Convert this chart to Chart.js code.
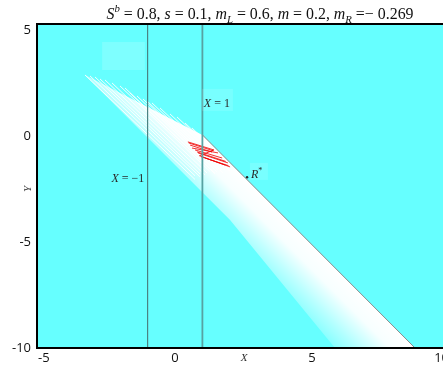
<!DOCTYPE html>
<html>
<head>
<meta charset="utf-8">
<script src="https://cdn.jsdelivr.net/npm/chart.js@4.4.1/dist/chart.umd.min.js"></script>
<style>
html, body { margin: 0; padding: 0; overflow: hidden; background: #fff; }
#wrap { width: 458px; height: 365px; }
</style>
</head>
<body>
<div id="wrap"><canvas id="c" width="458" height="365"></canvas></div>
<script>
// axis ranges and ticks
var xRange = [-5, 10];
var yRange = [-10, 5.28];
var xTicks = [-5, 0, 5, 10];
var yTicks = [-10, -5, 0, 5];

// the two vertical lines X = -1 and X = 1
var lineLeft = [[-1, -10], [-1, 5.28]];
var lineRight = [[1, -10], [1, 5.28]];

// diagonal boundary through R*
var boundary = [[1.0, 0.05], [8.76, -10]];
var rStar = [[2.63, -1.95]];

// white strip under the boundary
var band = [[-3.285, 2.877], [1.0, 0.05], [8.76, -10], [5.84, -10], [2.01, -3.96]];

// white streaks coming in from the upper left
var streaks = [
  [[-3.285, 2.877], [0.730, -2.052]],
  [[-3.102, 2.830], [0.730, -1.877]],
  [[-2.920, 2.783], [0.912, -1.925]],
  [[-2.737, 2.689], [0.912, -1.792]],
  [[-2.555, 2.642], [1.095, -1.840]],
  [[-2.299, 2.500], [1.168, -1.745]],
  [[-2.007, 2.358], [1.277, -1.675]],
  [[-1.825, 2.264], [1.460, -1.769]],
  [[-1.642, 2.028], [1.460, -1.781]],
  [[-1.387, 1.887], [1.533, -1.698]],
  [[-1.168, 1.745], [1.569, -1.604]],
  [[-0.985, 1.604], [1.752, -1.745]],
  [[-0.839, 1.557], [1.715, -1.580]],
  [[-0.547, 1.321], [1.825, -1.592]],
  [[-0.182, 1.038], [2.007, -1.651]],
  [[0.073, 0.896], [2.080, -1.557]],
  [[0.365, 0.613], [2.190, -1.627]],
  [[0.620, 0.377], [2.263, -1.639]]
];

// red trajectories near X = 1
var redLines = [
  [[0.47, -0.28], [1.42, -0.66]],
  [[0.50, -0.33], [1.40, -0.70]],
  [[0.55, -0.43], [1.35, -0.76]],
  [[0.62, -0.57], [1.57, -0.80]],
  [[1.42, -0.66], [0.88, -0.94]],
  [[0.73, -0.66], [1.72, -1.04]],
  [[0.80, -0.75], [1.85, -1.20]],
  [[0.84, -0.80], [1.93, -1.27]],
  [[0.91, -0.94], [2.01, -1.46]],
  [[0.95, -0.98], [1.95, -1.40]],
  [[1.10, -1.04], [1.83, -1.37]]
];

// pale patch in the upper left
var patch = [[-2.66, 4.43], [-1.10, 3.11]];

// text notes
var noteX1 = [1.53, 1.56];
var noteXm1 = [-1.72, -1.98];
var noteR = [2.77, -1.79];

function pts(arr) {
  return arr.map(function (p) { return { x: p[0], y: p[1] }; });
}

function bandFill(context) {
  var chart = context.chart;
  if (!chart.chartArea) return 'rgba(255,255,255,0.8)';
  var xs = chart.scales.x, ys = chart.scales.y;
  var ax = xs.getPixelForValue(boundary[0][0]), ay = ys.getPixelForValue(boundary[0][1]);
  var bx = xs.getPixelForValue(boundary[1][0]), by = ys.getPixelForValue(boundary[1][1]);
  var len = Math.hypot(bx - ax, by - ay);
  var dx = (bx - ax) / len, dy = (by - ay) / len;
  var g = chart.ctx.createLinearGradient(ax, ay, ax - dy * 62, ay + dx * 62);
  g.addColorStop(0, 'rgba(255,255,255,1)');
  g.addColorStop(0.28, 'rgba(255,255,255,0.95)');
  g.addColorStop(0.66, 'rgba(255,255,255,0.5)');
  g.addColorStop(1, 'rgba(255,255,255,0.12)');
  return g;
}

var datasets = [];
datasets.push({
  data: pts(band), fill: 'shape', backgroundColor: bandFill,
  borderWidth: 0, pointRadius: 0, order: 20
});
streaks.forEach(function (s) {
  datasets.push({ data: pts(s), borderColor: 'rgba(255,255,255,0.9)', borderWidth: 1, pointRadius: 0, fill: false, order: 15 });
});
redLines.forEach(function (s) {
  datasets.push({ data: pts(s), borderColor: 'rgba(240,0,0,0.8)', borderWidth: 1, pointRadius: 0, fill: false, order: 12 });
});
datasets.push({ data: pts(lineLeft), borderColor: '#4b8383', borderWidth: 1.2, pointRadius: 0, fill: false, order: 8 });
datasets.push({ data: pts(lineRight), borderColor: '#57a2a2', borderWidth: 1.8, pointRadius: 0, fill: false, order: 8 });
datasets.push({ data: pts(boundary), borderColor: '#8a8a8a', borderWidth: 1, pointRadius: 0, fill: false, order: 6 });
datasets.push({ data: pts(rStar), showLine: false, pointRadius: 1.2, pointBackgroundColor: '#222', pointBorderWidth: 0, order: 4 });

function richText(ctx, parts, x, base, size, align) {
  var w = 0;
  parts.forEach(function (p) {
    var s = (p.sup || p.sub) ? size * 0.68 : size;
    ctx.font = (p.i ? 'italic ' : '') + s + 'px "Liberation Serif", "DejaVu Serif", serif';
    p.w = ctx.measureText(p.t).width;
    p.s = s;
    w += p.w;
  });
  var cx = align === 'center' ? x - w / 2 : x;
  ctx.textAlign = 'left';
  ctx.textBaseline = 'alphabetic';
  parts.forEach(function (p) {
    ctx.font = (p.i ? 'italic ' : '') + p.s + 'px "Liberation Serif", "DejaVu Serif", serif';
    var off = p.sup ? -size * 0.42 : (p.sub ? size * 0.25 : 0);
    ctx.fillText(p.t, cx, base + off);
    cx += p.w;
  });
  return w;
}

var decor = {
  id: 'decor',
  beforeDatasetsDraw: function (chart) {
    var ctx = chart.ctx, a = chart.chartArea;
    var xs = chart.scales.x, ys = chart.scales.y;
    ctx.save();
    ctx.fillStyle = 'rgb(102,255,255)';
    ctx.fillRect(a.left, a.top, a.right - a.left, a.bottom - a.top);
    var px0 = xs.getPixelForValue(patch[0][0]), py0 = ys.getPixelForValue(patch[0][1]);
    var px1 = xs.getPixelForValue(patch[1][0]), py1 = ys.getPixelForValue(patch[1][1]);
    ctx.fillStyle = 'rgb(126,255,255)';
    ctx.fillRect(px0, py0, px1 - px0, py1 - py0);
    ctx.restore();
  },
  afterDatasetsDraw: function (chart) {
    var ctx = chart.ctx, a = chart.chartArea;
    var xs = chart.scales.x, ys = chart.scales.y;
    ctx.save();
    // light boxes behind the notes
    ctx.fillStyle = 'rgba(255,255,255,0.12)';
    var bx = xs.getPixelForValue(noteX1[0]), by = ys.getPixelForValue(noteX1[1]);
    ctx.fillRect(bx - 15, by - 14, 31, 22);
    var rx = xs.getPixelForValue(noteR[0]), ry = ys.getPixelForValue(noteR[1]);
    ctx.fillRect(rx - 1, ry - 11, 18, 17);
    ctx.fillStyle = '#2a2a2a';
    richText(ctx, [{ t: 'X', i: 1 }, { t: ' = 1' }], bx, by + 4, 12, 'center');
    var mx = xs.getPixelForValue(noteXm1[0]), my = ys.getPixelForValue(noteXm1[1]);
    richText(ctx, [{ t: 'X', i: 1 }, { t: ' = \u22121' }], mx, my + 4, 12, 'center');
    richText(ctx, [{ t: 'R', i: 1 }, { t: '*', sup: 1 }], rx, ry + 4, 12, 'left');
    // frame
    ctx.strokeStyle = '#000';
    ctx.lineWidth = 2;
    ctx.strokeRect(a.left - 1, a.top, a.right - a.left + 2, a.bottom - a.top);
    ctx.restore();
  },
  afterDraw: function (chart) {
    var ctx = chart.ctx;
    ctx.save();
    ctx.fillStyle = '#111';
    richText(ctx, [
      { t: 'S', i: 1 }, { t: 'b', i: 1, sup: 1 }, { t: ' = 0.8, ' },
      { t: 's', i: 1 }, { t: ' = 0.1, ' },
      { t: 'm', i: 1 }, { t: 'L', i: 1, sub: 1 }, { t: ' = 0.6, ' },
      { t: 'm', i: 1 }, { t: ' = 0.2, ' },
      { t: 'm', i: 1 }, { t: 'R', i: 1, sub: 1 }, { t: ' =\u2212 0.269' }
    ], 260, 19, 15.9, 'center');
    ctx.fillStyle = '#333';
    richText(ctx, [{ t: 'X', i: 1 }], 244, 361, 11, 'center');
    ctx.translate(27, 189);
    ctx.rotate(-Math.PI / 2);
    richText(ctx, [{ t: 'Y', i: 1 }], 0, 4, 11, 'center');
    ctx.restore();
  }
};

new Chart(document.getElementById('c'), {
  type: 'line',
  data: { datasets: datasets },
  options: {
    responsive: false,
    animation: false,
    events: [],
    layout: { padding: { top: 24, right: 9, left: 0, bottom: 0 } },
    plugins: { legend: { display: false }, tooltip: { enabled: false } },
    elements: { line: { tension: 0 } },
    scales: {
      x: {
        type: 'linear', min: xRange[0], max: xRange[1],
        grid: { display: false, drawTicks: false },
        border: { display: false },
        afterBuildTicks: function (s) { s.ticks = xTicks.map(function (v) { return { value: v }; }); },
        afterFit: function (s) { s.height = 17; },
        ticks: { color: '#111', padding: 2, maxRotation: 0, align: 'inner', font: { family: '"Open Sans", sans-serif', size: 13 } }
      },
      y: {
        type: 'linear', min: yRange[0], max: yRange[1],
        grid: { display: false, drawTicks: false },
        border: { display: false },
        afterBuildTicks: function (s) { s.ticks = yTicks.map(function (v) { return { value: v }; }); },
        afterFit: function (s) { s.width = 38; },
        ticks: { color: '#111', padding: 7, font: { family: '"Open Sans", sans-serif', size: 13 } }
      }
    }
  },
  plugins: [decor]
});
</script>
</body>
</html>
